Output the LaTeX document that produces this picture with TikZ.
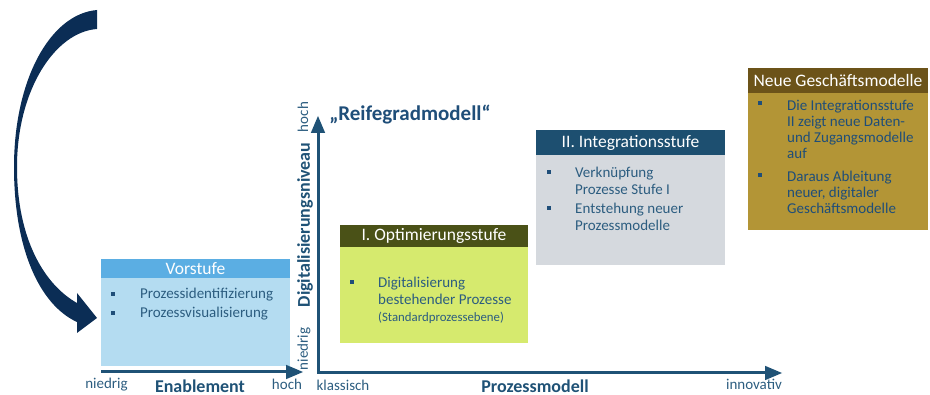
\documentclass[tikz,border=0pt]{standalone}
\usepackage{fontspec}
\setmainfont{Carlito}
\usetikzlibrary{arrows}

\definecolor{axisblue}{HTML}{1F5276}
\definecolor{textblue}{HTML}{2C5D80}
\definecolor{darkblue}{HTML}{1F4E79}
\definecolor{navy}{HTML}{0B2D55}
\definecolor{vorhead}{HTML}{5BAEE3}
\definecolor{vorbody}{HTML}{B4DCF1}
\definecolor{opthead}{HTML}{4A5117}
\definecolor{optbody}{HTML}{D6EA6E}
\definecolor{inthead}{HTML}{1D4F70}
\definecolor{intbody}{HTML}{D5D9DE}
\definecolor{gmhead}{HTML}{6C5319}
\definecolor{gmbody}{HTML}{B39536}

\begin{document}
\begin{tikzpicture}[x=1pt,y=-1pt]
			\tikzstyle{ax} = [-triangle 45, line width=3pt, draw=axisblue]
			\tikzstyle{head} = [inner sep=0, text=white, font=\fontsize{17.5}{18}\selectfont]
			\tikzstyle{itm} = [anchor=north west, inner sep=0, align=left, text=textblue, font=\fontsize{15}{17}\selectfont]
			\tikzstyle{bul} = [fill=darkblue, minimum size=4.5pt, inner sep=0]
			\tikzstyle{lbl} = [inner sep=0, text=textblue, font=\fontsize{15}{17}\selectfont]
			\tikzstyle{axtitle} = [inner sep=0, text=axisblue, font=\fontsize{18}{20}\selectfont\bfseries]
			\useasboundingbox (0,0) rectangle (930,395);
			% Vorstufe
			\fill [vorbody] (101,259) rectangle (290,366);
			\fill [vorhead] (101,259) rectangle (290,278);
			\node [head] (vs) at (195.5,268.5) {Vorstufe};
			\node [bul] (vb1) at (113,294) {};
			\node [bul] (vb2) at (113,313) {};
			\node [itm] (vt1) at (140,288) {Prozessidentifizierung};
			\node [itm] (vt2) at (140,307) {Prozessvisualisierung};
			% I. Optimierungsstufe
			\fill [optbody] (340,225) rectangle (528,343);
			\fill [opthead] (340,225) rectangle (528,247);
			\node [head] (os) at (434,236) {I. Optimierungsstufe};
			\node [bul] (ob1) at (352,282) {};
			\node [itm] (ot1) at (378,277) {Digitalisierung\\bestehender Prozesse};
			\node [itm, font=\fontsize{12.8}{14}\selectfont] (ot2) at (378,312) {(Standardprozessebene)};
			% II. Integrationsstufe
			\fill [intbody] (536,130) rectangle (725,265);
			\fill [inthead] (536,130) rectangle (725,155);
			\node [head] (is) at (630.5,142.5) {II. Integrationsstufe};
			\node [bul] (ib1) at (549,172) {};
			\node [bul] (ib2) at (549,208) {};
			\node [itm] (it1) at (575,167) {Verknüpfung\\Prozesse Stufe I};
			\node [itm] (it2) at (575,203) {Entstehung neuer\\Prozessmodelle};
			% Neue Geschaeftsmodelle
			\fill [gmbody] (748,68) rectangle (928,230);
			\fill [gmhead] (748,68) rectangle (928,93);
			\node [head] (gs) at (838,80.5) {Neue Geschäftsmodelle};
			\node [bul] (gb1) at (760,103) {};
			\node [bul] (gb2) at (760,175) {};
			\node [itm, text=darkblue, font=\fontsize{15}{16}\selectfont] (gt1) at (787,100) {Die Integrationsstufe\\II zeigt neue Daten-\\und Zugangsmodelle\\auf};
			\node [itm, text=darkblue, font=\fontsize{15}{16}\selectfont] (gt2) at (787,171) {Daraus Ableitung\\neuer, digitaler\\Geschäftsmodelle};
			% Pfeil zur Vorstufe
			\fill [navy] (97,10) .. controls (50,14) and (14,80) .. (14,167)
				.. controls (14,250) and (40,305) .. (77,322) -- (77,333) -- (97,318) -- (77,293) -- (77,303)
				.. controls (45,285) and (17,240) .. (17,167)
				.. controls (17,90) and (55,32) .. (97,29) -- cycle;
			% Achsen
			\coordinate (en0) at (101,372);
			\coordinate (en1) at (303,372);
			\draw [ax] (en0) -- (en1);
			\coordinate (ytop) at (318,116);
			\coordinate (org) at (318,373);
			\coordinate (xend) at (782,373);
			\draw [ax, triangle 45-triangle 45, line join=miter] (ytop) -- (org) -- (xend);
			\node [lbl] (enlo) at (106.5,385) {niedrig};
			\node [axtitle] (ent) at (200,386) {Enablement};
			\node [lbl] (enhi) at (287,384) {hoch};
			\node [lbl] (xlo) at (343,385) {klassisch};
			\node [axtitle] (xt) at (535,386) {Prozessmodell};
			\node [lbl] (xhi) at (754,384) {innovativ};
			\node [lbl, rotate=90] (yhi) at (303,117) {hoch};
			\node [axtitle, rotate=90] (yt) at (305,225) {Digitalisierungsniveau};
			\node [lbl, rotate=90] (ylo) at (304,349) {niedrig};
			\node [inner sep=0, text=darkblue, font=\fontsize{21}{23}\selectfont\bfseries] (title) at (410,115) {„Reifegradmodell“};
		\end{tikzpicture}
\end{document}
